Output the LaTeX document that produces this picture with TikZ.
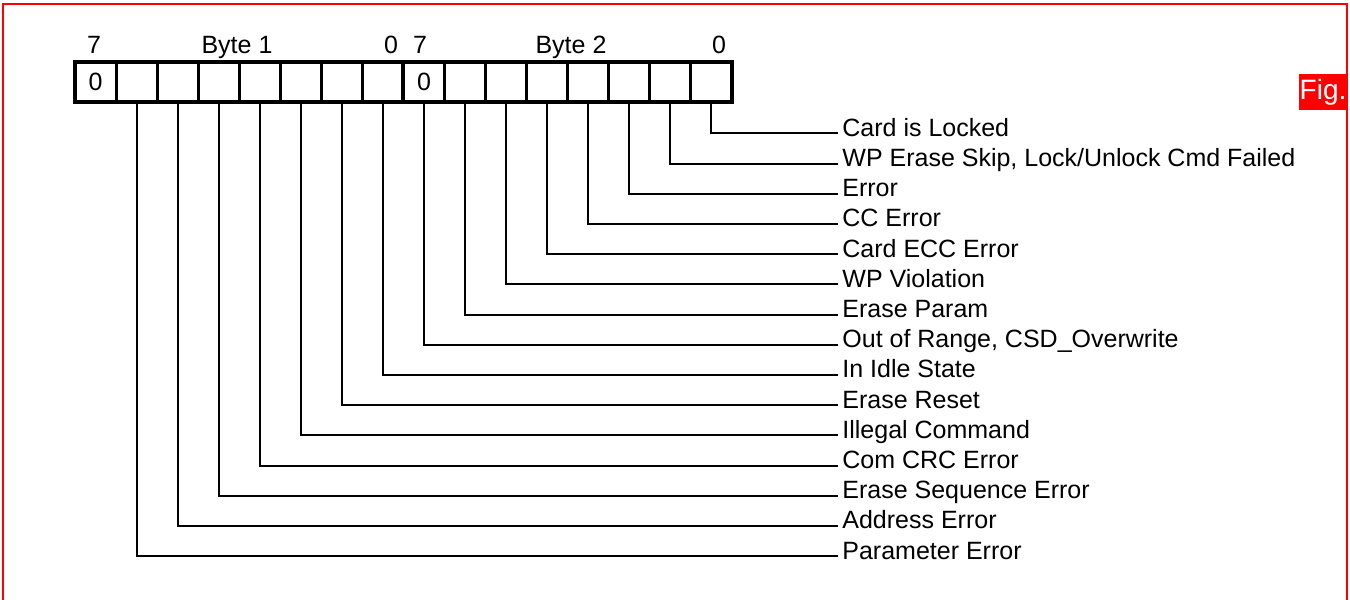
\documentclass[tikz,border=0pt]{standalone}
\usepackage{fontspec}
\setmainfont{Liberation Sans}
\usepackage{xcolor}
\usetikzlibrary{positioning}

\definecolor{figred}{RGB}{255,0,0}
\tikzset{
    bitcell/.style={draw, line width=1.5pt, minimum width=20.53pt, minimum height=20pt,
        inner sep=0pt, outer sep=0pt, font=\fontsize{12.5}{15}\selectfont},
    toplabel/.style={anchor=base, inner sep=0pt, font=\fontsize{12.5}{15}\selectfont},
    bitlabel/.style={anchor=base west, inner sep=0pt, font=\fontsize{12.5}{15}\selectfont},
    leader/.style={line width=1pt},
}

\begin{document}
\begin{tikzpicture}[x=0.5pt, y=-0.5pt]
    \useasboundingbox (0,0) rectangle (1350,600);

    % Khung đỏ
    \draw[figred, line width=0.65pt] (3,600) -- (3,4) -- (1347,4) -- (1347,600);
    \node[fill=figred, text=white, inner sep=0pt, minimum width=24pt, minimum height=18pt,
        font=\fontsize{14}{16}\selectfont] (fig) at (1323,92) {Fig.};

    % Các ô bit
    \foreach \k in {0,...,15}
        \node[bitcell] (c\k) at ({75+41.06*(\k+0.5)},82) {\ifnum\k=0 0\fi\ifnum\k=8 0\fi};
    \draw[line width=2pt] (c0.north west) rectangle (c15.south east);
    \draw[line width=2pt] (c8.north west) -- (c8.south west);

    % Nhãn byte
    \node[toplabel] (hi1) at (94,53) {7};
    \node[toplabel] (byte1) at (237,53) {Byte 1};
    \node[toplabel] (lo1) at (391,53) {0};
    \node[toplabel] (hi2) at (420,53) {7};
    \node[toplabel] (byte2) at (571,53) {Byte 2};
    \node[toplabel] (lo2) at (719,53) {0};

    % Nhãn bit và đường dẫn
    \foreach \lbl [count=\i from 0] in {Card is Locked, {WP Erase Skip, Lock/Unlock Cmd Failed},
        Error, CC Error, Card ECC Error, WP Violation, Erase Param,
        {Out of Range, CSD\_Overwrite}, In Idle State, Erase Reset, Illegal Command,
        Com CRC Error, Erase Sequence Error, Address Error, Parameter Error} {
        \pgfmathtruncatemacro\k{15-\i}
        \node[bitlabel] (l\i) at (842,{136.3+30.2*\i}) {\lbl};
        \draw[leader] (c\k.south) |- ([shift={(-2pt,1.5pt)}]l\i.base west);
    }
\end{tikzpicture}
\end{document}
